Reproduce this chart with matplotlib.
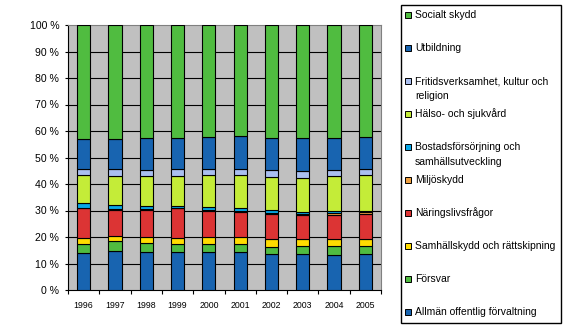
import matplotlib
matplotlib.use("Agg")
import matplotlib.pyplot as plt
from matplotlib.patches import Rectangle
import numpy as np

plt.rcParams['font.family'] = ['Liberation Sans', 'DejaVu Sans']

years = ['1996', '1997', '1998', '1999', '2000', '2001', '2002', '2003', '2004', '2005']

# Share of total expenditure (%) per function, bottom to top
allman     = [14.0, 14.7, 14.3, 14.3, 14.3, 14.3, 13.5, 13.5, 13.1, 13.5]
forsvar    = [3.4, 3.7, 3.3, 3.1, 3.1, 3.1, 2.7, 3.0, 3.4, 3.0]
samhall    = [2.2, 2.0, 2.4, 2.1, 2.6, 2.5, 3.0, 2.7, 2.7, 2.7]
naringsliv = [11.2, 9.7, 10.2, 11.3, 9.9, 9.5, 9.5, 9.0, 9.1, 9.5]
miljo      = [0.3, 0.3, 0.3, 0.3, 0.4, 0.5, 0.4, 0.5, 0.6, 0.9]
bostad     = [1.7, 1.7, 1.2, 0.7, 1.0, 1.0, 1.1, 0.7, 0.9, 0.2]
halso      = [10.6, 10.9, 11.2, 11.1, 12.1, 12.5, 12.4, 12.9, 13.1, 13.6]
fritid     = [2.3, 2.7, 2.4, 2.8, 2.3, 2.3, 2.6, 2.5, 2.3, 2.3]
utbildning = [11.3, 11.3, 12.1, 11.7, 12.1, 12.4, 12.2, 12.6, 12.2, 12.1]
socialt    = [43.0, 43.0, 42.6, 42.6, 42.2, 41.9, 42.6, 42.6, 42.6, 42.2]

series = [
    ('Allmän offentlig förvaltning', allman, '#1864b0'),
    ('Försvar', forsvar, '#50bc40'),
    ('Samhällskydd och rättskipning', samhall, '#ffdc00'),
    ('Näringslivsfrågor', naringsliv, '#dc3434'),
    ('Miljöskydd', miljo, '#f0a040'),
    ('Bostadsförsörjning och\nsamhällsutveckling', bostad, '#08a8e8'),
    ('Hälso- och sjukvård', halso, '#c4ec38'),
    ('Fritidsverksamhet, kultur och\nreligion', fritid, '#aabff0'),
    ('Utbildning', utbildning, '#1864b0'),
    ('Socialt skydd', socialt, '#50bc40'),
]

W, H = 571, 327
fig = plt.figure(figsize=(W / 100, H / 100), dpi=100)
ax = fig.add_axes([68 / W, 1 - 290 / H, (381 - 68) / W, (290 - 25) / H])
ax.set_facecolor('#c0c0c0')

x = np.arange(len(years))
bottom = np.zeros(len(years))
for label, vals, color in series:
    vals = np.array(vals)
    ax.bar(x, vals, width=0.42, bottom=bottom, color=color,
           edgecolor='black', linewidth=0.8, zorder=3)
    bottom += vals

ax.set_xlim(-0.5, len(years) - 0.5)
ax.set_ylim(0, 100)

yt = np.arange(0, 101, 10)
ax.set_yticks(yt)
ax.set_yticklabels([f'{v} %' for v in yt], fontsize=7.6)
for v in yt[1:-1]:
    ax.axhline(v, color='black', linewidth=0.8, zorder=1)

ax.set_xticks(x)
ax.set_xticklabels(years, fontsize=6.3)
ax.set_xticks(np.arange(-0.5, len(years)), minor=True)
ax.tick_params(axis='x', which='major', length=0, pad=8)
ax.tick_params(axis='x', which='minor', length=3, width=0.8, color='black')
ax.tick_params(axis='y', length=2.5, width=0.8, pad=3.8, color='black')

for side in ('left', 'bottom'):
    ax.spines[side].set_color('black')
    ax.spines[side].set_linewidth(0.8)
for side in ('top', 'right'):
    ax.spines[side].set_color('#808080')
    ax.spines[side].set_linewidth(0.8)

# Legend box drawn in figure pixel space, top entry = top series
to_fig = lambda px, py: (px / W, 1 - py / H)
lx0, ly0, lx1, ly1 = 401, 5, 561, 323
fig.patches.append(Rectangle(to_fig(lx0, ly1), (lx1 - lx0) / W, (ly1 - ly0) / H,
                             transform=fig.transFigure, facecolor='white',
                             edgecolor='black', linewidth=1.0))
for i, (label, vals, color) in enumerate(reversed(series)):
    yc = 15 + 33.0 * i
    fig.patches.append(Rectangle(to_fig(404.5, yc + 3), 6 / W, 6 / H,
                                 transform=fig.transFigure, facecolor=color,
                                 edgecolor='black', linewidth=0.7))
    for j, line in enumerate(label.split('\n')):
        tx, ty = to_fig(415, yc + 15 * j)
        fig.text(tx, ty, line, fontsize=7.5, va='center', ha='left')

fig.savefig('out.png', dpi=100)
